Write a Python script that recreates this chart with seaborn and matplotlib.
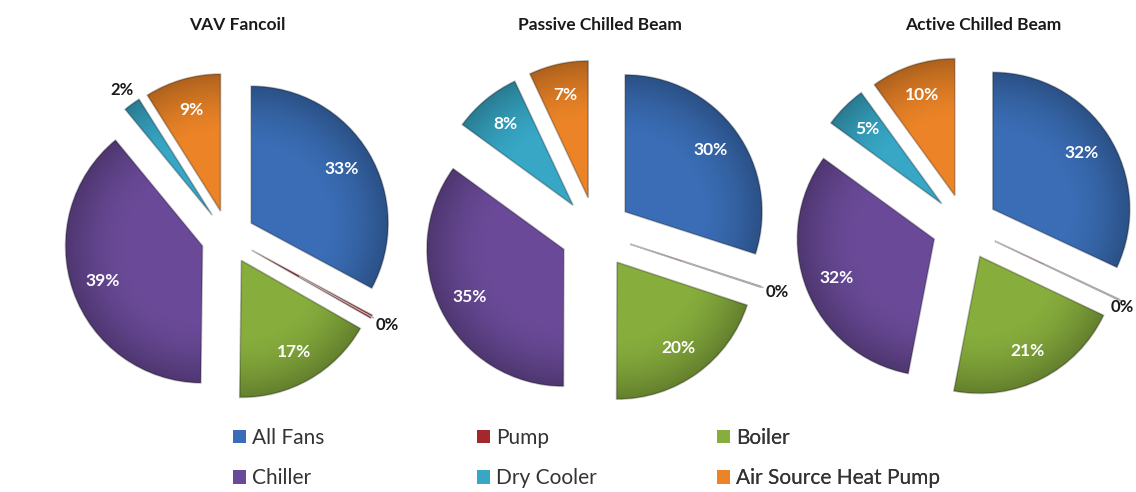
import numpy as np
import matplotlib
matplotlib.use("Agg")
import matplotlib.pyplot as plt
import seaborn as sns
from matplotlib.patches import Patch

# Energy share by end use for three HVAC system types
categories = ["All Fans", "Pump", "Boiler", "Chiller", "Dry Cooler", "Air Source Heat Pump"]
titles = ["VAV Fancoil", "Passive Chilled Beam", "Active Chilled Beam"]
vav_fancoil = [33, 0.4, 17, 39, 2, 9]
passive_beam = [30, 0.1, 20, 35, 8, 7]
active_beam = [32, 0.1, 21, 32, 5, 10]
series = [vav_fancoil, passive_beam, active_beam]

colors = ["#3a6db5", "#a3282b", "#87ad3d", "#6a4a98", "#37a7c5", "#ec8427"]

sns.set_theme(style="white")
plt.rcParams["font.family"] = ["Lato", "DejaVu Sans"]

W, H = 1136, 492
fig = plt.figure(figsize=(W / 100, H / 100), dpi=100)
ax = fig.add_axes([0, 0, 1, 1])

# layout of each pie in pixel units (x from left, y from top)
centers = [(228, 237), (596, 233), (965, 227)]
explodes = [27, 36, 33]
radius = 137
title_x = [237, 600, 983]


def shade(wedge, r):
    """Darken a wedge towards its rim for a bevelled look."""
    cx, cy = wedge.center
    n = 200
    xs = np.linspace(cx - r, cx + r, n)
    ys = np.linspace(cy - r, cy + r, n)
    gx, gy = np.meshgrid(xs, ys)
    d = np.hypot(gx - cx, gy - cy) / r
    alpha = 0.26 * np.clip((d - 0.55) / 0.45, 0, 1) ** 1.6
    img = np.zeros((n, n, 4))
    img[..., 3] = alpha
    im = ax.imshow(img, extent=[cx - r, cx + r, cy - r, cy + r], origin="lower",
                   interpolation="bilinear", zorder=wedge.get_zorder() + 0.1)
    im.set_clip_path(wedge)


for vals, title, (cx, cy), ex, tx in zip(series, titles, centers, explodes, title_x):
    wedges, _ = ax.pie(
        vals, colors=colors, startangle=90, counterclock=False,
        center=(cx, H - cy), radius=radius, explode=[ex] * len(vals),
        wedgeprops=dict(edgecolor="#00000040", linewidth=1.2),
    )
    total = sum(vals)
    for w, v in zip(wedges, vals):
        pct = v / total * 100
        if pct >= 1:
            shade(w, radius)
        ang = np.deg2rad((w.theta1 + w.theta2) / 2)
        wx, wy = w.center
        txt = f"{pct:.0f}%"
        if pct < 3:
            if pct < 1:
                # thin leader line for a vanishing slice
                ax.plot([wx + 0.4 * radius * np.cos(ang), wx + 1.02 * radius * np.cos(ang)],
                        [wy + 0.4 * radius * np.sin(ang), wy + 1.02 * radius * np.sin(ang)],
                        color="#b0b0b0", lw=1.0, zorder=1)
            d = 1.13
            lx = wx + d * radius * np.cos(ang)
            ly = wy + d * radius * np.sin(ang)
            ax.text(min(lx, W - 14), ly, txt, ha="center", va="center",
                    fontsize=12, fontweight="bold", color="#1a1a1a", zorder=5)
        else:
            d = 0.77
            ax.text(wx + d * radius * np.cos(ang), wy + d * radius * np.sin(ang), txt,
                    ha="center", va="center", fontsize=12.5, fontweight="bold",
                    color="white", zorder=5)
    ax.text(tx, H - 25, title, ha="center", va="center", fontsize=12.5,
            fontweight="bold", color="#1a1a1a")

ax.set_xlim(0, W)
ax.set_ylim(0, H)
ax.set_aspect("equal")
ax.axis("off")

# legend: three columns of two entries, row-major order
handles = [Patch(facecolor=c, edgecolor="none") for c in colors]
col_x = [233, 477, 717]
for i, x in enumerate(col_x):
    idx = [i, i + 3]
    leg = ax.legend([handles[j] for j in idx], [categories[j] for j in idx],
                    loc="upper left", bbox_to_anchor=(x / W, 1 - 428 / H),
                    bbox_transform=fig.transFigure, frameon=False,
                    fontsize=15, handlelength=0.6, handleheight=0.6,
                    handletextpad=0.3, labelspacing=0.98, borderpad=0,
                    borderaxespad=0, labelcolor="#333333")
    ax.add_artist(leg)

fig.savefig("out.png", dpi=100, facecolor="white")
